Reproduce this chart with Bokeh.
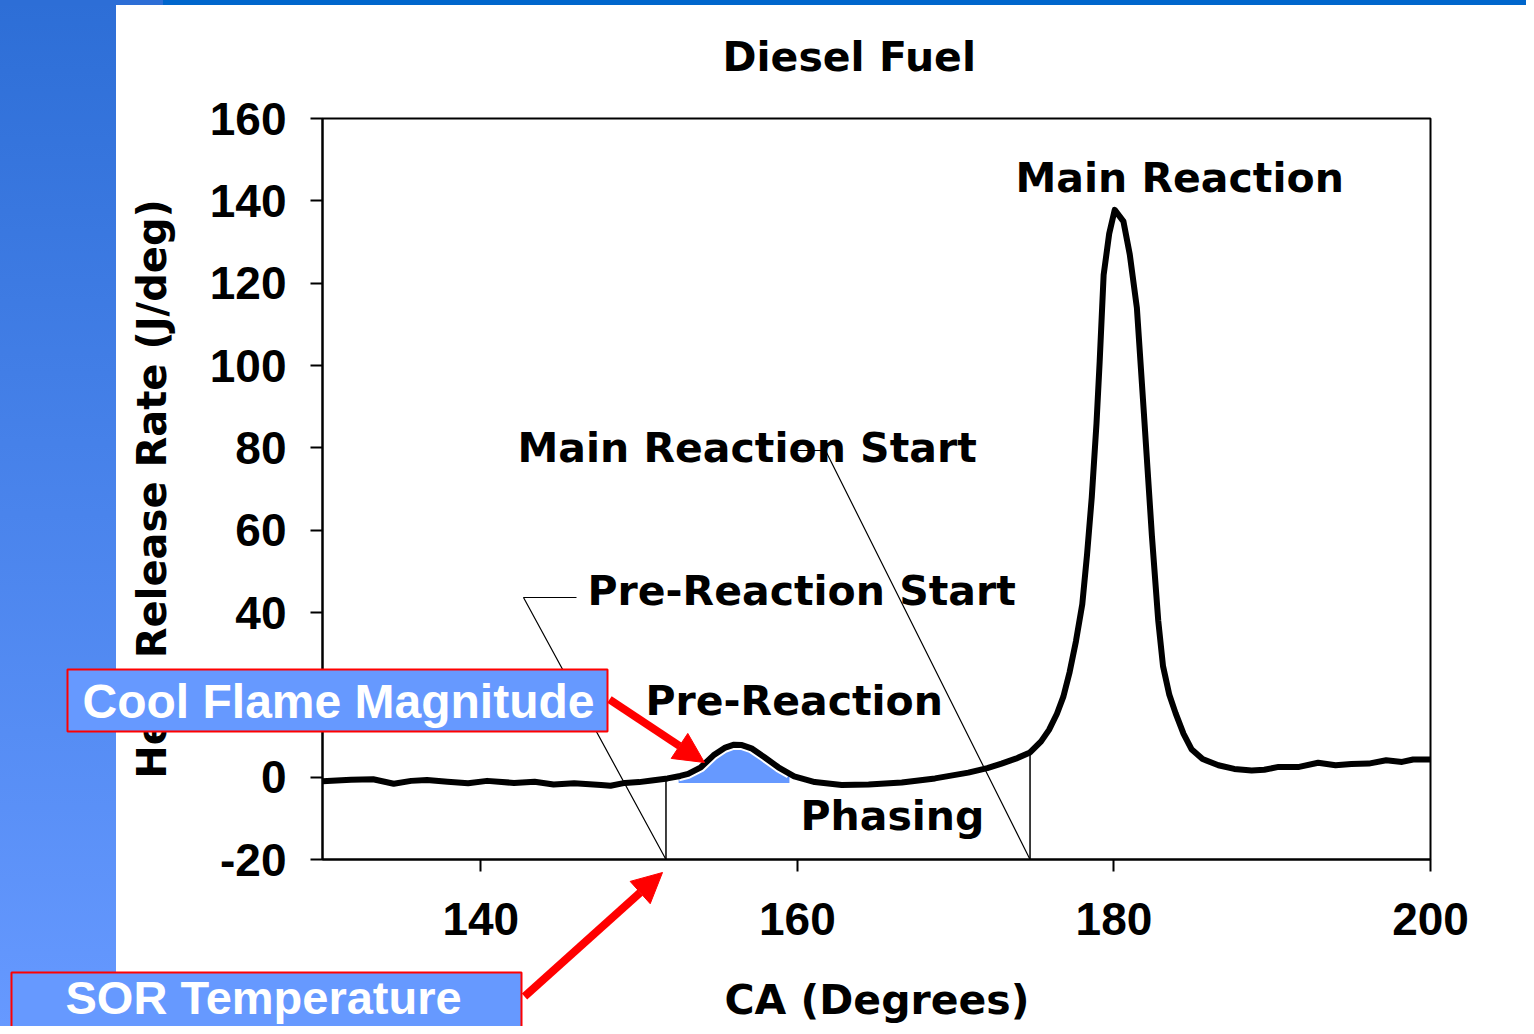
import numpy as np
from bokeh.plotting import figure
from bokeh.layouts import column
from bokeh.models import Label, Arrow, NormalHead, FixedTicker, Range1d
from bokeh.embed import file_html
from bokeh.resources import INLINE

# ---------------- data ----------------
ca_deg = [130.0, 131.8, 133.2, 134.5, 135.6, 136.6, 137.9, 139.2, 140.4, 142.1, 143.4, 144.6,
          145.9, 147.6, 148.2, 149.1, 150.0, 150.8, 151.8, 152.6, 153.1, 153.9, 154.7, 155.4,
          156.0, 156.5, 157.1, 157.9, 158.8, 159.8, 161.1, 162.8, 164.5, 166.6, 168.7, 170.8,
          172.0, 172.9, 173.8, 174.7, 175.4, 175.9, 176.4, 176.8, 177.2, 177.6, 178.0, 178.3,
          178.6, 178.9, 179.1, 179.35, 179.7, 180.05, 180.6, 181.0, 181.45, 181.9, 182.4, 182.8,
          183.1, 183.5, 183.9, 184.4, 184.9, 185.6, 186.6, 187.6, 188.7, 189.5, 190.4, 191.7,
          192.9, 194.0, 195.0, 196.1, 197.2, 198.2, 198.9, 200.0]
heat_release = [-1.0, -0.6, -0.5, -1.6, -0.9, -0.7, -1.1, -1.5, -0.9, -1.4, -1.1, -1.8,
                -1.5, -1.9, -2.1, -1.4, -1.2, -0.8, -0.3, 0.3, 0.8, 2.4, 5.3, 7.1,
                7.9, 7.8, 7.0, 4.9, 2.4, 0.2, -1.2, -1.9, -1.8, -1.3, -0.3, 1.1,
                2.2, 3.3, 4.5, 6.0, 8.7, 11.5, 15.4, 19.5, 25.5, 33.0, 42.0, 54.0,
                68.0, 86.0, 101.0, 122.0, 132.0, 137.8, 135.0, 127.0, 114.0, 88.0, 58.6, 38.0,
                27.0, 20.0, 15.5, 10.5, 6.8, 4.4, 2.9, 2.0, 1.6, 1.8, 2.5, 2.5,
                3.5, 2.9, 3.2, 3.3, 4.1, 3.7, 4.3, 4.3]

pre_reaction_start = 151.7     # start of reaction (SOR)
main_reaction_start = 174.7
cool_flame_from, cool_flame_to, cool_flame_base = 152.5, 159.5, -1.4

x_ticks = [140, 160, 180, 200]
y_ticks = [-20, 0, 20, 40, 60, 80, 100, 120, 140, 160]

title_text = "Diesel Fuel"
x_label = "CA (Degrees)"
y_label = "Heat Release Rate (J/deg)"

# ---------------- main chart ----------------
W, H = 1526, 1026
FL, FR, FT, FB = 322, 1430, 118, 859      # frame edges in canvas pixels
X0, X1, Y0, Y1 = 130, 200, -20, 160

p = figure(width=W, height=H, x_range=Range1d(X0, X1), y_range=Range1d(Y0, Y1),
           output_backend="svg", toolbar_location=None, title=None,
           min_border_left=FL, min_border_right=W - FR, min_border_top=FT, min_border_bottom=H - FB)
p.frame_align = False
p.border_fill_color = None
p.background_fill_color = "white"
p.outline_line_color = "black"
p.outline_line_width = 2
p.styles = {"background": (
    "linear-gradient(90deg, #2D6ED6 0px, #2D6ED6 163px, #0066CC 163px) 0 0 / 100% 5px no-repeat, "
    "linear-gradient(180deg, #2D6ED6 0%, #4A84EC 50%, #6699FF 100%) 0 0 / 116px 100% no-repeat, "
    "#FFFFFF")}
p.grid.visible = False

# annotation layout helpers: canvas pixel -> data
def ca(px):
    return X0 + (px - FL) * (X1 - X0) / (FR - FL)

def hr(py):
    return Y1 - (py - FT) * (Y1 - Y0) / (FB - FT)

for ax in (p.xaxis[0], p.yaxis[0]):
    ax.major_tick_in = 0
    ax.major_tick_out = 12
    ax.minor_tick_line_color = None
    ax.axis_line_width = 2
    ax.major_tick_line_width = 2
    ax.major_label_text_font = "Liberation Sans"
    ax.major_label_text_font_size = "46px"
    ax.major_label_text_font_style = "bold"
    ax.major_label_text_color = "black"

p.xaxis.ticker = FixedTicker(ticks=x_ticks)
p.yaxis.ticker = FixedTicker(ticks=y_ticks)
p.yaxis.major_label_overrides = {-20: "-20"}
p.xaxis.major_label_standoff = 31
p.yaxis.major_label_standoff = 24
p.yaxis.axis_label = y_label
p.yaxis.axis_label_text_font = "DejaVu Sans"
p.yaxis.axis_label_text_font_style = "bold"
p.yaxis.axis_label_text_font_size = "40px"
p.yaxis.axis_label_text_color = "black"
p.yaxis.axis_label_standoff = 32

cx = np.array(ca_deg)
cy = np.array(heat_release)

# vertical phase markers
for xs in (pre_reaction_start, main_reaction_start):
    p.segment(x0=xs, y0=Y0, x1=xs, y1=float(np.interp(xs, cx, cy)), line_color="black", line_width=1.5)

# leader lines from the labels to the phase markers
p.line([ca(576), ca(523), pre_reaction_start], [hr(597), hr(597), Y0], line_color="black", line_width=1.2)
p.line([ca(795), ca(825), main_reaction_start], [hr(450), hr(450), Y0], line_color="black", line_width=1.2)

# cool flame area
mask = (cx > cool_flame_from) & (cx < cool_flame_to)
cf_x = np.concatenate([[cool_flame_from], cx[mask], [cool_flame_to]])
cf_y = np.interp(cf_x, cx, cy)
p.varea(x=cf_x, y1=np.full_like(cf_x, cool_flame_base), y2=cf_y, fill_color="#6699FF")
p.line(cf_x, cf_y, line_color="white", line_width=10, line_join="round")

# heat release curve
p.line(cx, cy, line_color="black", line_width=6, line_join="round", line_cap="round")

def lab(fig, text, x, y, size, font="DejaVu Sans", color="black"):
    fig.add_layout(Label(x=x, y=y, text=text, text_align="left", text_baseline="alphabetic",
                         text_font=font, text_font_size=size, text_font_style="bold", text_color=color))

# (pixel positions below are the rendered baselines minus the renderer's text offset)
lab(p, "Main Reaction", ca(1015), hr(177), "41px")
lab(p, "Main Reaction Start", ca(517), hr(447), "41px")
lab(p, "Pre-Reaction Start", ca(587), hr(590), "41px")
lab(p, "Pre-Reaction", ca(645), hr(700), "41px")
lab(p, "Phasing", ca(800), hr(815), "41px")

# ---------------- overlay (slide texts, callouts and arrows, in page pixels) ----------------
ov = figure(width=W, height=H, x_range=Range1d(0, W), y_range=Range1d(H, 0),
            output_backend="svg", toolbar_location=None, title=None,
            x_axis_location=None, y_axis_location=None, min_border=0)
ov.frame_align = False
ov.background_fill_color = None
ov.border_fill_color = None
ov.outline_line_color = None
ov.grid.visible = False
ov.styles = {"position": "absolute", "left": "0px", "top": "0px"}

lab(ov, title_text, 722, 56, "41px")
lab(ov, x_label, 724, 999, "41px")

ov.quad(left=[67, 11], right=[607, 521], top=[669, 972], bottom=[731, 1040],
        fill_color="#6699FF", line_color="#FF0000", line_width=2)
lab(ov, "Cool Flame Magnitude", 82, 701, "48px", font="Liberation Sans", color="white")
lab(ov, "SOR Temperature", 65, 997, "47px", font="Liberation Sans", color="white")

for (xa, ya, xb, yb) in [(609, 699, 704, 762), (524, 996, 662, 872)]:
    ov.add_layout(Arrow(x_start=xa, y_start=ya, x_end=xb, y_end=yb,
                        line_color="#FF0000", line_width=8,
                        end=NormalHead(size=30, fill_color="#FF0000", line_color="#FF0000", line_width=1)))

root = column(p, ov)
root.styles = {"position": "relative"}

open("out.html", "w").write(file_html(root, INLINE))
